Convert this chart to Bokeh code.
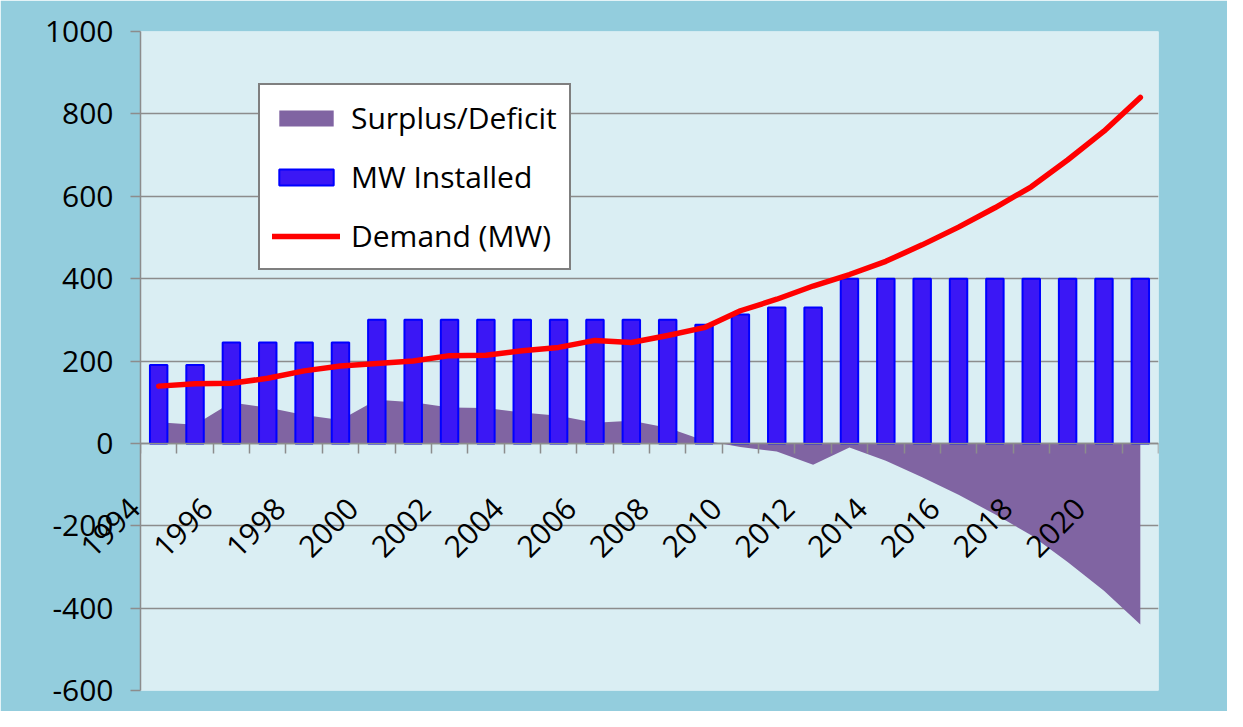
import math
from bokeh.plotting import figure
from bokeh.models import (Range1d, FixedTicker, Legend, LegendItem, ColumnDataSource,
                          Label)
from bokeh.embed import file_html
from bokeh.resources import INLINE

# ---- data ----
years = list(range(1994, 2022))
mw_installed = [190, 190, 245, 245, 245, 245, 300, 300, 300, 300, 300, 300, 300, 300,
                300, 288, 313, 330, 330, 400, 400, 400, 400, 400, 400, 400, 400, 400]
demand_mw = [139, 145, 146, 158, 176, 188, 194, 200, 213, 214, 225, 233, 250, 245,
             262, 281, 322, 350, 382, 410, 442, 482, 525, 572, 623, 688, 758, 840]
surplus_deficit = [51, 45, 99, 87, 69, 57, 106, 100, 87, 86, 75, 67, 50, 55,
                   38, 7, -9, -20, -52, -10, -42, -82, -125, -172, -223, -288, -358, -440]
x_tick_years = [1994, 1996, 1998, 2000, 2002, 2004, 2006, 2008, 2010, 2012, 2014, 2016, 2018, 2020]
y_ticks = [-600, -400, -200, 0, 200, 400, 600, 800, 1000]

GRID = "#8C8C8C"
FONT = "Open Sans"

src = ColumnDataSource(dict(year=years, installed=mw_installed, demand=demand_mw,
                            surplus=surplus_deficit, zero=[0] * len(years)))

p = figure(width=1227, height=711, output_backend="svg", toolbar_location=None,
           x_range=Range1d(years[0] - 0.5, years[-1] + 0.5), y_range=Range1d(-600, 1000),
           min_border_left=140, min_border_right=69, min_border_top=31, min_border_bottom=21,
           background_fill_color="#DAEEF3", border_fill_color="#93CDDD",
           outline_line_color=None)

r_area = p.varea(x="year", y1="zero", y2="surplus", source=src, fill_color="#8064A2")
r_bar = p.vbar(x="year", top="installed", width=0.48, source=src,
               fill_color="#3B17F5", line_color="#0000FF", line_width=2)
r_line = p.line(x="year", y="demand", source=src, line_color="#FF0000", line_width=5.5,
                line_cap="round", line_join="round")

# y axis
yax = p.yaxis[0]
yax.ticker = FixedTicker(ticks=y_ticks)
yax.major_label_overrides = {t: str(t) for t in y_ticks}
yax.axis_line_color = GRID
yax.axis_line_width = 1.5
yax.major_tick_line_color = GRID
yax.major_tick_line_width = 1.5
yax.major_tick_out = 10
yax.major_tick_in = 0
yax.minor_tick_line_color = None
yax.major_label_standoff = 17
yax.major_label_text_font = FONT
yax.major_label_text_font_size = "30px"
yax.major_label_text_color = "black"

# x axis line crossing at y = 0, with tick marks between the year categories
xax = p.xaxis[0]
xax.fixed_location = 0
xax.ticker = FixedTicker(ticks=[],
                         minor_ticks=[y - 0.5 for y in years] + [years[-1] + 0.5])
xax.axis_line_color = GRID
xax.axis_line_width = 1.5
xax.major_tick_line_color = None
xax.minor_tick_line_color = GRID
xax.minor_tick_line_width = 1.5
xax.minor_tick_out = 10
xax.minor_tick_in = 0

# rotated year labels hanging below the zero line
for yr in x_tick_years:
    lab = Label(x=yr, y=0, x_units="data", y_units="data", text=str(yr),
                angle=math.pi / 4, text_align="right", text_baseline="middle",
                x_offset=-24, y_offset=-60,
                text_font=FONT, text_font_size="30px", text_color="black")
    # the first label reaches past the plot area's left edge: keep it out of the clipped centre
    p.add_layout(lab, "right" if yr == x_tick_years[0] else "center")

p.xgrid.visible = False
p.ygrid.ticker = FixedTicker(ticks=y_ticks)
p.ygrid.grid_line_color = GRID
p.ygrid.grid_line_width = 1.5

legend = Legend(items=[LegendItem(label="Surplus/Deficit", renderers=[r_area]),
                       LegendItem(label="MW Installed", renderers=[r_bar]),
                       LegendItem(label="Demand (MW)", renderers=[r_line])],
                location=(118, 420), orientation="vertical",
                border_line_color="black", border_line_width=2,
                background_fill_color="white", background_fill_alpha=1,
                glyph_width=68, glyph_height=20, label_standoff=11,
                padding=12, spacing=18, margin=0,
                label_text_font=FONT, label_text_font_size="30px",
                label_text_color="black")
p.add_layout(legend)

open("out.html", "w").write(file_html(p, INLINE))
